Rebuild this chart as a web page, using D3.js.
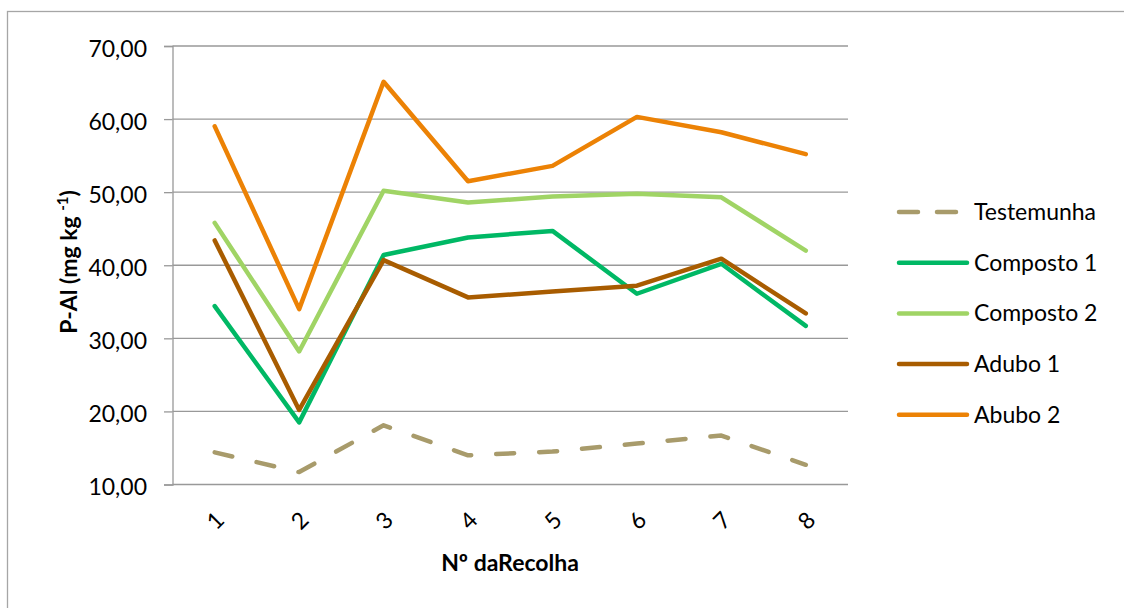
<!DOCTYPE html>
<html>
<head>
<meta charset="utf-8">
<script src="https://cdn.jsdelivr.net/npm/d3@7"></script>
<style>
  body { margin: 0; background: #fff; }
  svg text { font-family: Lato, "Open Sans", sans-serif; fill: #000; }
</style>
</head>
<body>
<svg id="chart" width="1124" height="608"></svg>
<script>
const categories = ['1', '2', '3', '4', '5', '6', '7', '8'];
const yTicks = [10, 20, 30, 40, 50, 60, 70];
const seriesNames = ['Testemunha', 'Composto 1', 'Composto 2', 'Adubo 1', 'Abubo 2'];
const testemunha = [14.4, 11.7, 18.1, 14.0, 14.5, 15.6, 16.7, 12.7];
const composto1 = [34.4, 18.5, 41.4, 43.8, 44.7, 36.1, 40.2, 31.7];
const composto2 = [45.8, 28.2, 50.2, 48.6, 49.4, 49.8, 49.3, 42.0];
const adubo1 = [43.4, 20.2, 40.7, 35.6, 36.4, 37.2, 40.9, 33.4];
const abubo2 = [59.0, 34.0, 65.1, 51.5, 53.6, 60.3, 58.2, 55.2];
const colors = ['#A89B6B', '#00B865', '#A0D465', '#A85C00', '#EC8205'];

const series = [testemunha, composto1, composto2, adubo1, abubo2].map((values, i) => ({
    name: seriesNames[i],
    values: values,
    color: colors[i],
    dashed: i === 0
}));

const svg = d3.select('#chart');

// outer frame of the chart area
svg.append('rect')
    .attr('x', 7.5).attr('y', 11.5)
    .attr('width', 1130).attr('height', 610)
    .attr('fill', 'none')
    .attr('stroke', '#A6A6A6')
    .attr('stroke-width', 1.3);

const x = d3.scaleBand()
    .domain(categories)
    .range([172.5, 848]);

const y = d3.scaleLinear()
    .domain([10, 70])
    .range([484.5, 46]);

// gridlines + y ticks
const yAxis = svg.append('g')
    .attr('transform', 'translate(172.5,0)')
    .call(d3.axisLeft(y)
        .tickValues(yTicks)
        .tickSize(8.5)
        .tickPadding(17)
        .tickFormat(d => d3.format('.2f')(d).replace('.', ',')));
yAxis.select('.domain').attr('stroke', '#999').attr('stroke-width', 1.3);
yAxis.selectAll('.tick line').attr('stroke', '#999').attr('stroke-width', 1.3);
yAxis.selectAll('.tick text')
    .attr('font-size', 23)
    .attr('font-family', 'Lato, sans-serif')
    .attr('dy', '0.45em')
    .attr('fill', '#000');

svg.append('g')
    .selectAll('line')
    .data(yTicks)
    .join('line')
    .attr('x1', 172.5)
    .attr('x2', 848)
    .attr('y1', d => y(d))
    .attr('y2', d => y(d))
    .attr('stroke', '#999')
    .attr('stroke-width', 1.3);

// x labels, rotated
svg.append('g')
    .selectAll('text')
    .data(categories)
    .join('text')
    .attr('transform', d => `translate(${x(d) + x.bandwidth() / 2},${520}) rotate(-45)`)
    .attr('text-anchor', 'middle')
    .attr('dominant-baseline', 'central')
    .attr('font-size', 23)
    .text(d => d);

// lines
const line = d3.line()
    .x((d, i) => x(categories[i]) + x.bandwidth() / 2)
    .y(d => y(d));

svg.append('g')
    .selectAll('path')
    .data(series)
    .join('path')
    .attr('d', d => line(d.values))
    .attr('fill', 'none')
    .attr('stroke', d => d.color)
    .attr('stroke-width', 4.5)
    .attr('stroke-linejoin', 'round')
    .attr('stroke-linecap', 'round')
    .attr('stroke-dasharray', d => d.dashed ? '18,25' : null);

// axis titles
svg.append('text')
    .attr('x', 510)
    .attr('y', 571)
    .attr('text-anchor', 'middle')
    .attr('font-size', 23)
    .attr('font-weight', 'bold')
    .text('Nº daRecolha');

const yTitle = svg.append('text')
    .attr('transform', 'translate(77,262) rotate(-90)')
    .attr('text-anchor', 'middle')
    .attr('font-size', 23)
    .attr('font-weight', 'bold');
yTitle.append('tspan').text('P-Al (mg kg ');
yTitle.append('tspan').attr('dy', -9).attr('font-size', 15).text('-1');
yTitle.append('tspan').attr('dy', 9).text(')');

// legend
const legend = svg.append('g')
    .selectAll('g')
    .data(series)
    .join('g')
    .attr('transform', (d, i) => `translate(0,${212 + i * 50.7})`);

legend.append('line')
    .attr('x1', 899)
    .attr('x2', 967)
    .attr('stroke', d => d.color)
    .attr('stroke-width', 4.5)
    .attr('stroke-linecap', 'round')
    .attr('stroke-dasharray', d => d.dashed ? '19,19' : null);

legend.append('text')
    .attr('x', 974)
    .attr('dy', '0.35em')
    .attr('font-size', 23)
    .text(d => d.name);
</script>
</body>
</html>
